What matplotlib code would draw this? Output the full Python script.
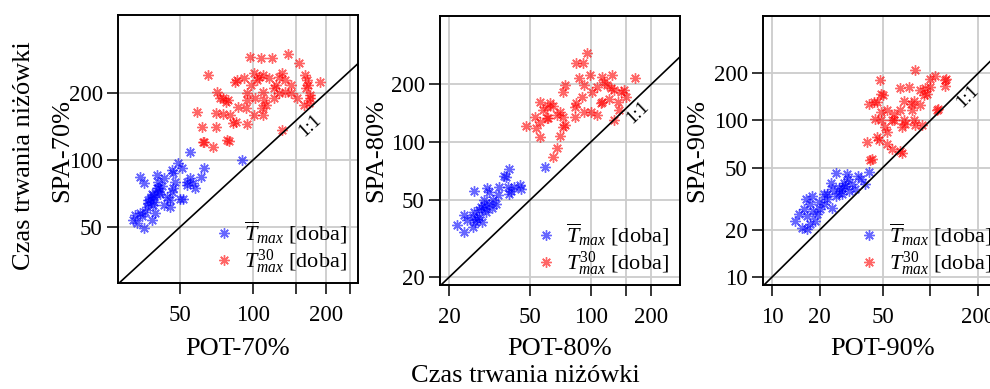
import matplotlib
matplotlib.use("Agg")
import matplotlib.pyplot as plt
import numpy as np
from matplotlib.ticker import NullLocator

plt.rcParams["font.family"] = "Liberation Serif"
plt.rcParams["mathtext.fontset"] = "custom"
plt.rcParams["mathtext.rm"] = "Liberation Serif"
plt.rcParams["mathtext.it"] = "Liberation Serif:italic"

# durations [days]: POT (x) vs SPA (y), mean of annual maxima and 30-year maximum
pot70_mean = [55, 63, 34, 35.3, 40, 40.6, 42, 38.8, 37.6, 39, 38.8, 36.5, 35.9, 34, 32.6, 32, 33.2,
              35.3, 38.2, 39.5, 44, 45.3, 45.3, 42.7, 46.9, 47.6, 46.9, 49.2, 50.8, 46.2, 53.2, 55,
              56.5, 53.2, 60.9, 57.4, 51.6, 46.2, 50, 41.4, 38.2, 42.7, 40.6, 37, 34.7, 90, 39, 41, 37, 40]
spa70_mean = [109, 92, 84, 78.5, 85.6, 80, 76, 69.6, 67, 65, 62.7, 61.7, 58.6, 57.5, 56.6, 53.7, 51.9,
              49.3, 53.7, 57.5, 68.4, 66, 61.7, 62.7, 74.6, 80, 87, 96.5, 91.7, 90.5, 80, 82.6,
              78.5, 77, 84.2, 74.6, 67, 72, 67, 70.5, 70.5, 82.6, 74.6, 64, 56, 100, 68, 72, 66, 75]
pot70_t30 = [65, 97.5, 108, 120, 140, 155, 163, 188, 169, 167, 172, 162, 152, 143, 131, 128, 136, 124,
             122, 116, 110, 101, 106, 104, 98, 92, 86, 84.5, 110, 102, 94, 94, 111, 113, 109, 122,
             135, 143, 128, 71, 73, 77.5, 75.4, 79, 86.7, 93.6, 70, 75.4, 80.4, 58.8, 85, 94, 101,
             110, 61.6, 70, 132, 62, 79.6, 170, 172, 165, 68.3, 62.7, 78, 83]
spa70_t30 = [241, 291, 286, 286, 299, 272, 241, 225, 217, 229, 196, 177, 189, 217, 245, 237, 229, 217,
             210, 233, 241, 245, 237, 229, 217, 233, 229, 223, 203, 189, 199, 186, 186, 177, 171, 189,
             203, 199, 199, 203, 189, 183, 189, 186, 173, 171, 162, 161, 160, 164, 148, 145, 160,
             160, 141, 141, 136, 121, 122, 180, 189, 210, 114, 121, 123, 146]

pot80_mean = [39.7, 38.2, 37.5, 26.5, 30.9, 31.5, 35.4, 34.7, 39, 40.4, 42, 44.6, 45.5, 39.7, 29.8,
              31.5, 28.6, 32.7, 30.4, 28, 26.9, 23.6, 24.5, 21.8, 23.6, 26.1, 29.2, 28, 33.9, 26.1,
              26.5, 59.5, 29.8, 33, 30, 27.5]
spa80_mean = [73, 66, 67, 56.2, 58, 55, 58.4, 53, 58.4, 56, 58.5, 59.8, 57, 54, 50, 48, 46, 45.4,
              43.5, 41.1, 38.6, 41.8, 39.3, 37.1, 34.2, 36.5, 38.6, 44.4, 48, 41.1, 43.5, 74, 47, 50,
              45, 40]
pot80_t30 = [95.5, 85, 92, 87.4, 99, 114, 128, 165, 117, 121, 126, 131, 141, 147, 150, 136, 124, 112,
             108, 102, 92.6, 75, 73, 91, 85, 83.7, 92.6, 100, 83.7, 73, 70.7, 65.5, 63, 60.6, 56,
             58.3, 53, 56, 60.6, 61.6, 68, 73, 75, 70.7, 54, 56, 47.7, 138, 131, 114, 108, 68, 65]
spa80_t30 = [291, 256, 256, 216, 222, 218, 222, 214, 206, 198, 190, 186, 182, 186, 172, 162, 168, 159,
             194, 182, 198, 198, 182, 172, 159, 153, 143, 143, 135, 135, 143, 155, 159, 153, 162,
             147, 135, 128, 133, 134, 138, 120, 123, 108, 118, 107, 121, 147, 130, 162, 138, 93, 84]

pot90_mean = [40.8, 25.5, 29.8, 34.9, 30.2, 23.4, 23.9, 26.3, 29, 31.9, 33.5, 30.5, 27.7, 25.3, 22.2,
              22.2, 21.2, 19.7, 17.9, 16.3, 17.3, 15.9, 14.7, 14, 16.6, 18.2, 17.3, 16.6, 18.8, 19.2,
              20.2, 23.9, 21.2, 26.3, 38.9, 36.2, 28.3, 27.7, 15.5]
spa90_mean = [47.1, 46.3, 45.7, 44, 42.1, 40.1, 36.3, 37.2, 38.2, 39.1, 36.3, 35.4, 33.7, 33, 33.7,
              31.3, 29.1, 30, 33, 31.3, 29.1, 27, 25.1, 22.8, 24.5, 26.5, 21.7, 20.2, 22.8, 25.1, 27,
              27.8, 33.7, 34.6, 39.1, 42.1, 40.1, 37.2, 20.7]
pot90_t30 = [80.4, 47.9, 64.6, 73, 85.6, 93, 100, 107.5, 100, 126, 124.4, 90.7, 95.3, 78.5, 75, 68,
             86.5, 76.6, 64.6, 58.7, 53.4, 48.4, 50, 46.1, 40.8, 43.8, 48.4, 44.6, 48.4, 58.7, 68,
             69.5, 66.2, 57.3, 78.5, 80.4, 88.6, 110, 52, 53.4, 46.1, 47, 53.4, 57.3, 39.8, 64.6,
             42.8, 41.8, 66.6, 112, 124]
spa90_t30 = [211, 180, 160, 163, 156, 160, 163, 191, 185, 185, 165, 145, 148, 134, 128, 134, 125, 116,
             116, 110, 116, 148, 145, 131, 128, 131, 113, 102, 100, 100, 100, 95, 90.6, 100, 100, 93,
             93, 116, 90.6, 84, 78, 74.5, 71, 66, 72.6, 64.2, 56.8, 55.5, 62.4, 119, 180]

panels = [
    dict(box=(118, 15, 358, 283), xlim=(27.7, 271), ylim=(28, 448),
         xticks=[50, 100, 150, 200, 250], xlabels=["50", "100", "", "200", ""],
         yticks=[50, 100, 200], xname="POT-70%", yname="SPA-70%", yname_x=62,
         data=(pot70_mean, spa70_mean, pot70_t30, spa70_t30)),
    dict(box=(440, 16, 680, 285), xlim=(18.0, 277), ylim=(18.2, 451),
         xticks=[20, 50, 100, 150, 200], xlabels=["20", "50", "100", "", "200"],
         yticks=[20, 50, 100, 200], xname="POT-80%", yname="SPA-80%", yname_x=376,
         data=(pot80_mean, spa80_mean, pot80_t30, spa80_t30)),
    dict(box=(763, 16, 1003, 285), xlim=(8.77, 287), ylim=(8.9, 464),
         xticks=[10, 20, 50, 100, 200], xlabels=["10", "20", "50", "", "200"],
         yticks=[10, 20, 50, 100, 200], xname="POT-90%", yname="SPA-90%", yname_x=697,
         data=(pot90_mean, spa90_mean, pot90_t30, spa90_t30)),
]

W, H = 990, 389
fig = plt.figure(figsize=(W / 100, H / 100), dpi=100)
star = (8, 2, 0)
tick_fs = 16.5
label_fs = 19

for p in panels:
    left, top, right, bottom = p["box"]
    ax = fig.add_axes([left / W, 1 - bottom / H, (right - left) / W, (bottom - top) / H])
    ax.set_xscale("log")
    ax.set_yscale("log")
    ax.set_xlim(*p["xlim"])
    ax.set_ylim(*p["ylim"])
    ax.set_xticks(p["xticks"])
    ax.set_xticklabels(p["xlabels"])
    ax.set_yticks(p["yticks"])
    ax.set_yticklabels([str(t) for t in p["yticks"]])
    ax.xaxis.set_minor_locator(NullLocator())
    ax.yaxis.set_minor_locator(NullLocator())
    ax.tick_params(direction="out", length=8, width=1.1, labelsize=tick_fs, color="black")
    ax.tick_params(axis="x", pad=8)
    ax.tick_params(axis="y", pad=3)
    ax.grid(True, color="#cccccc", lw=1.3)
    ax.set_axisbelow(True)
    for s in ax.spines.values():
        s.set_linewidth(1.4)

    xm, ym, xt, yt = p["data"]
    ax.plot(xm, ym, ls="none", marker=star, ms=7.5, mew=1.0, color="#0000ff", alpha=0.6,
            label=r"$\overline{T}_{max}$ [doba]")
    ax.plot(xt, yt, ls="none", marker=star, ms=7.5, mew=1.0, color="#ff0000", alpha=0.6,
            label=r"$T^{30}_{max}$ [doba]")

    # 1:1 reference line and its label
    ax.plot([1, 1000], [1, 1000], color="black", lw=1.2)
    p0 = ax.transData.transform((100, 100))
    p1 = ax.transData.transform((200, 200))
    ang = np.degrees(np.arctan2(p1[1] - p0[1], p1[0] - p0[0]))
    ax.text(172, 143, "1:1", rotation=ang, ha="center", va="center", fontsize=13.5)

    ax.legend(loc="lower right", bbox_to_anchor=(1 - 8 / 240, 4 / 268), frameon=False,
              fontsize=16, handlelength=0.6, handletextpad=0.6, labelspacing=0.05,
              borderaxespad=0.0, borderpad=0.15)

    fig.text((left + right) / 2 / W, 1 - 349 / H, p["xname"], ha="center", va="center",
             fontsize=label_fs)
    fig.text(p["yname_x"] / W, 1 - 150 / H, p["yname"], rotation=90, ha="center", va="center",
             fontsize=label_fs)

fig.text(24 / W, 1 - 156 / H, "Czas trwania niżówki", rotation=90, ha="center", va="center",
         fontsize=label_fs)
fig.text(525 / W, 1 - 376 / H, "Czas trwania niżówki", ha="center", va="center",
         fontsize=label_fs)

fig.savefig("out.png", dpi=100)
